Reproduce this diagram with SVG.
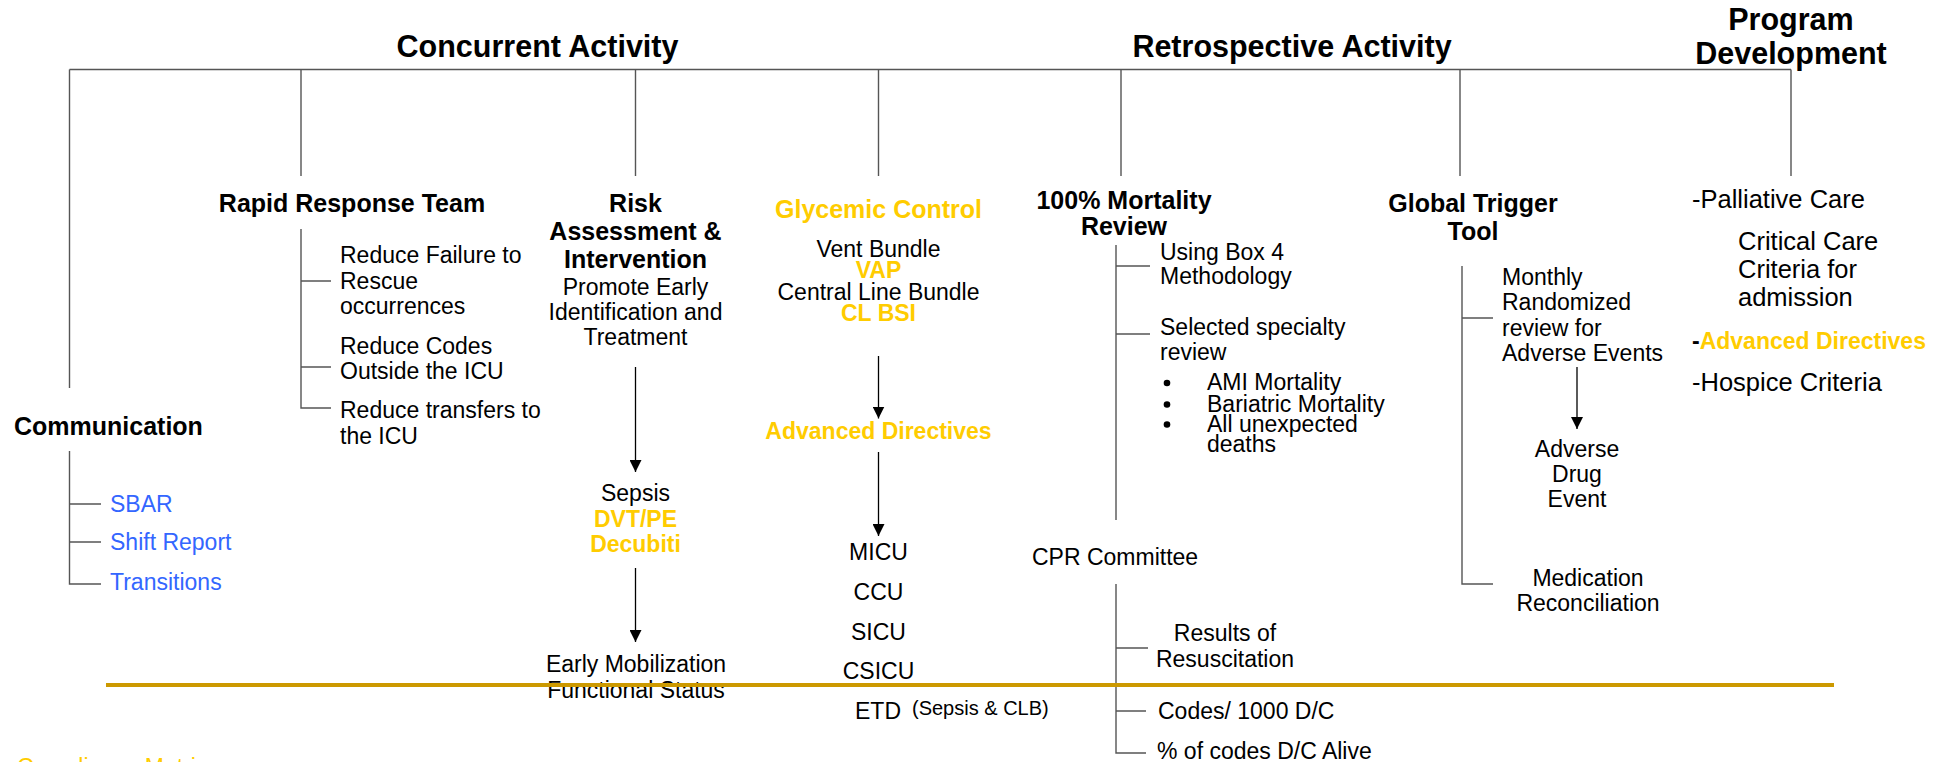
<svg xmlns="http://www.w3.org/2000/svg" width="1943" height="762" viewBox="0 0 1943 762">
<defs>
<style>
text{font-family:"Liberation Sans",Arial,Helvetica,sans-serif;fill:#000}
.h{font-size:30.5px;font-weight:bold}
.t{font-size:25px;font-weight:bold}
.n{font-size:23px}
.p{font-size:25.5px}
.b{font-weight:bold}
.g{fill:#FFCC00}
.bl{fill:#3366FF}
.c{text-anchor:middle}
.tree{stroke:#555;stroke-width:1.4;fill:none}
.arr{stroke:#000;stroke-width:1.3;fill:none;marker-end:url(#ah)}
</style>
<marker id="ah" viewBox="0 0 12 12" refX="12" refY="6" markerWidth="12" markerHeight="12" markerUnits="userSpaceOnUse" orient="auto">
<path d="M0,0 L12,6 L0,12 Z" fill="#000"/>
</marker>
</defs>
<rect width="1943" height="762" fill="#fff"/>

<g id="connectors">
<path class="tree" d="M69.5,69.5 H1791 M69.5,69.5 V388 M301,69.5 V176 M635.5,69.5 V176 M878.5,69.5 V176 M1121,69.5 V176 M1460,69.5 V176 M1791,69.5 V176"/>
<path class="tree" d="M69.5,451 V584 H101 M69.5,504 H101 M69.5,542 H101"/>
<path class="tree" d="M301,229 V408 H331 M301,281 H331 M301,367 H331"/>
<path class="tree" d="M1116,245 V520 M1116,266 H1150 M1116,334 H1150"/>
<path class="tree" d="M1116,584 V753 H1146 M1116,648 H1148 M1116,711 H1146"/>
<path class="tree" d="M1462,266 V584 H1493 M1462,318 H1493"/>
<path class="arr" d="M635.5,367 V472"/>
<path class="arr" d="M635.5,568 V642"/>
<path class="arr" d="M878.5,356 V418.5"/>
<path class="arr" d="M878.5,452 V536"/>
<path class="arr" d="M1577,367 V429"/>
</g>

<g id="headers">
<text class="h c" x="537.5" y="57">Concurrent Activity</text>
<text class="h c" x="1292" y="57">Retrospective Activity</text>
<text class="h c" x="1791" y="30">Program</text>
<text class="h c" x="1791" y="64">Development</text>
</g>

<g id="communication">
<text class="t" x="14" y="435">Communication</text>
<text class="n bl" x="110" y="512">SBAR</text>
<text class="n bl" x="110" y="550">Shift Report</text>
<text class="n bl" x="110" y="590">Transitions</text>
</g>

<g id="rapid-response-team">
<text class="t c" x="352" y="212">Rapid Response Team</text>
<text class="n" x="340"><tspan x="340" y="263">Reduce Failure to</tspan><tspan x="340" y="289">Rescue</tspan><tspan x="340" y="314">occurrences</tspan></text>
<text class="n" x="340"><tspan x="340" y="354">Reduce Codes</tspan><tspan x="340" y="379">Outside the ICU</tspan></text>
<text class="n" x="340"><tspan x="340" y="418">Reduce transfers to</tspan><tspan x="340" y="444">the ICU</tspan></text>
</g>

<g id="risk-assessment">
<text class="t c"><tspan x="635.5" y="212">Risk</tspan><tspan x="635.5" y="240">Assessment &amp;</tspan><tspan x="635.5" y="268">Intervention</tspan></text>
<text class="n c"><tspan x="635.5" y="295">Promote Early</tspan><tspan x="635.5" y="320">Identification and</tspan><tspan x="635.5" y="345">Treatment</tspan></text>
</g>
<g id="sepsis">
<text class="n c" x="635.5" y="501">Sepsis</text>
<text class="n b g c" x="635.5" y="527">DVT/PE</text>
<text class="n b g c" x="635.5" y="552">Decubiti</text>
</g>
<g id="early-mobilization">
<text class="n c" x="636" y="672">Early Mobilization</text>
<text class="n c" x="636" y="697.5">Functional Status</text>
</g>

<g id="glycemic-control">
<text class="t g c" x="878.5" y="218">Glycemic Control</text>
<text class="n c" x="878.5" y="257">Vent Bundle</text>
<text class="n b g c" x="878.5" y="278">VAP</text>
<text class="n c" x="878.5" y="299.5">Central Line Bundle</text>
<text class="n b g c" x="878.5" y="321">CL BSI</text>
</g>
<g id="advanced-directives">
<text class="n b g c" x="878.5" y="438.5">Advanced Directives</text>
</g>
<g id="units">
<text class="n c" x="878.5" y="560">MICU</text>
<text class="n c" x="878.5" y="600">CCU</text>
<text class="n c" x="878.5" y="639.5">SICU</text>
<text class="n c" x="878.5" y="679">CSICU</text>
<text class="n c" x="878" y="718.5">ETD</text>
<text x="912" y="715" style="font-size:20px">(Sepsis &amp; CLB)</text>
</g>

<g id="mortality-review">
<text class="t c"><tspan x="1124" y="208.5">100% Mortality</tspan><tspan x="1124" y="235">Review</tspan></text>
<text class="n"><tspan x="1160" y="260">Using Box 4</tspan><tspan x="1160" y="283.5">Methodology</tspan></text>
<text class="n"><tspan x="1160" y="335">Selected specialty</tspan><tspan x="1160" y="360">review</tspan></text>
<circle cx="1167" cy="383" r="3.3"/>
<circle cx="1167" cy="404.5" r="3.3"/>
<circle cx="1167" cy="424.5" r="3.3"/>
<text class="n"><tspan x="1207" y="390">AMI Mortality</tspan><tspan x="1207" y="411.5">Bariatric Mortality</tspan><tspan x="1207" y="431.5">All unexpected</tspan><tspan x="1207" y="451.5">deaths</tspan></text>
</g>

<g id="cpr-committee">
<text class="n" x="1032" y="565">CPR Committee</text>
<text class="n c"><tspan x="1225" y="641">Results of</tspan><tspan x="1225" y="667">Resuscitation</tspan></text>
<text class="n" x="1158" y="719">Codes/ 1000 D/C</text>
<text class="n" x="1157" y="759">% of codes D/C Alive</text>
</g>

<g id="global-trigger-tool">
<text class="t c"><tspan x="1473" y="211.5">Global Trigger</tspan><tspan x="1473" y="240">Tool</tspan></text>
<text class="n"><tspan x="1502" y="285">Monthly</tspan><tspan x="1502" y="310">Randomized</tspan><tspan x="1502" y="336">review for</tspan><tspan x="1502" y="361">Adverse Events</tspan></text>
</g>
<g id="adverse-drug-event">
<text class="n c"><tspan x="1577" y="456.5">Adverse</tspan><tspan x="1577" y="482">Drug</tspan><tspan x="1577" y="507">Event</tspan></text>
</g>
<g id="medication-reconciliation">
<text class="n c"><tspan x="1588" y="586">Medication</tspan><tspan x="1588" y="611">Reconciliation</tspan></text>
</g>

<g id="program-development">
<text class="p" x="1692" y="208">-Palliative Care</text>
<text class="p"><tspan x="1738" y="250">Critical Care</tspan><tspan x="1738" y="278">Criteria for</tspan><tspan x="1738" y="306">admission</tspan></text>
<text class="n b" x="1692" y="348.5">-<tspan class="g">Advanced Directives</tspan></text>
<text class="p" x="1692" y="391">-Hospice Criteria</text>
</g>

<g id="compliance-metrics">
<text class="n g" x="17" y="775">Compliance Metrics</text>
</g>

<line id="metrics-divider" x1="106" y1="685" x2="1834" y2="685" stroke="#CC9900" stroke-width="4"/>
</svg>
